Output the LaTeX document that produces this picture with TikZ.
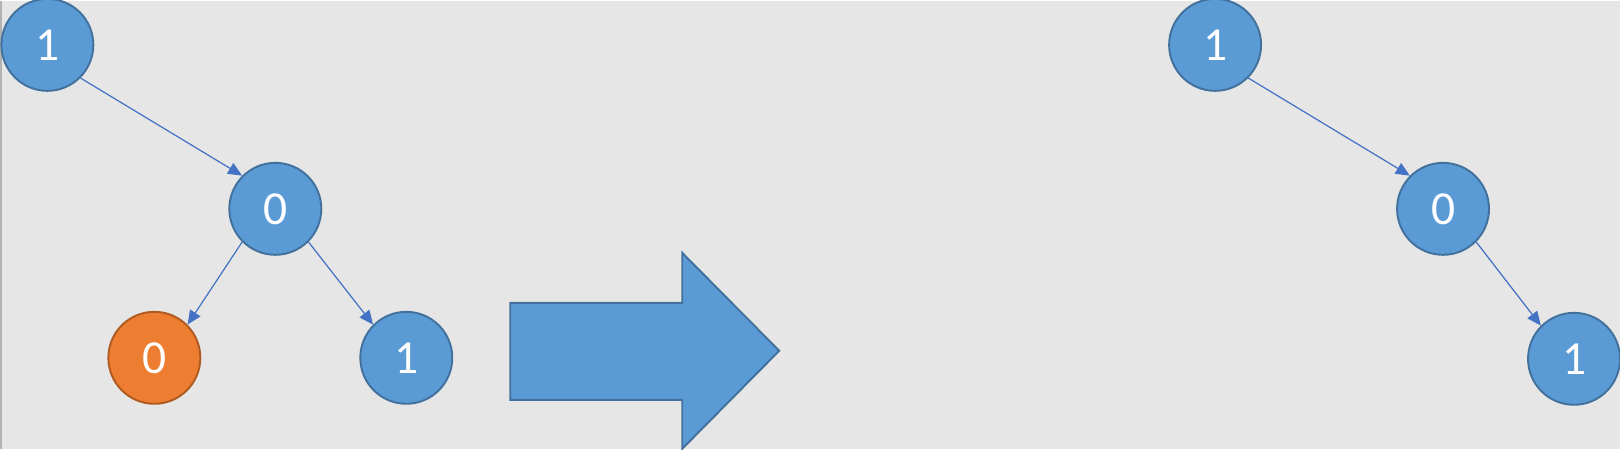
\documentclass[tikz,border=0pt]{standalone}
\usepackage{fontspec}
\setmainfont{Carlito}
\usetikzlibrary{arrows.meta, positioning}
\definecolor{canvas}{RGB}{230, 230, 230}
\definecolor{nodeblue}{RGB}{91, 155, 213}
\definecolor{rimblue}{RGB}{65, 113, 156}
\definecolor{nodeorange}{RGB}{237, 125, 49}
\definecolor{rimorange}{RGB}{174, 90, 33}
\definecolor{linkblue}{RGB}{68, 114, 196}
\tikzset{
    bit/.style={circle, draw=rimblue, line width=1.1pt, fill=nodeblue, text=white, minimum size=1.84cm, inner sep=0pt, font=\fontsize{27}{32}\selectfont},
    cutbit/.style={bit, draw=rimorange, fill=nodeorange},
    link/.style={-{Triangle[length=8pt, width=7pt]}, linkblue, line width=0.7pt},
    bigarrow/.style={draw=rimblue, line width=1.1pt, fill=nodeblue, line join=miter}
}

\begin{document}
\begin{tikzpicture}[x=0.02cm, y=-0.02cm]
        \fill[canvas] (0,0) rectangle (1620,448);
        \draw[gray!60, line width=1pt] (0.5,0)--(0.5,448);
        \useasboundingbox (0,0) rectangle (1620,448);

        % tree before
        \node[bit] (root) at (47,44) {1};
        \node[bit] (mid) at (275,208) {0};
        \node[cutbit] (leafa) at (154,357) {0};
        \node[bit] (leafb) at (406,357) {1};

        \draw[link] (root.south east)--(mid.north west);
        \draw[link] (mid.south west)--(leafa.north east);
        \draw[link] (mid.south east)--(leafb.north west);

        % big arrow
        \draw[bigarrow] (510,302)--(682,302)--(682,252)--(779,350)--(682,448)--(682,399)--(510,399)--cycle;

        % tree after
        \node[bit] (rroot) at (1215,44) {1};
        \node[bit] (rmid) at (1443,208) {0};
        \node[bit] (rleaf) at (1574,358) {1};

        \draw[link] (rroot.south east)--(rmid.north west);
        \draw[link] (rmid.south east)--(rleaf.north west);
    \end{tikzpicture}
\end{document}
